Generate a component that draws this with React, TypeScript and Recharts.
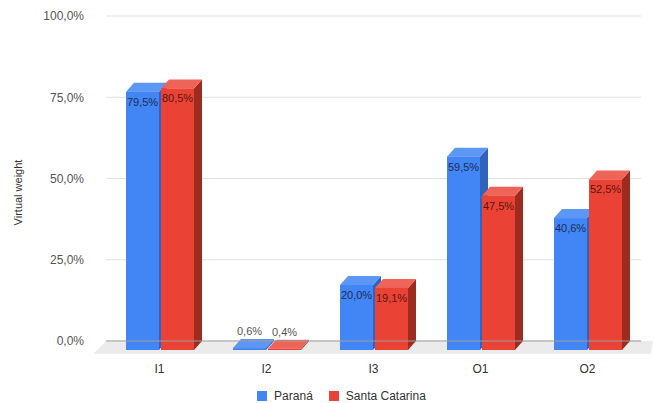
import React from 'react';
import {
  BarChart,
  Bar,
  XAxis,
  YAxis,
  CartesianGrid,
  Legend,
  LabelList,
  ReferenceArea,
  ReferenceLine,
} from 'recharts';

const categories = ['I1', 'I2', 'I3', 'O1', 'O2'];
const parana = [79.5, 0.6, 20.0, 59.5, 40.6];
const santaCatarina = [80.5, 0.4, 19.1, 47.5, 52.5];
const yTicks = [0, 25, 50, 75, 100];

const data = categories.map((name, i) => ({
  name,
  parana: parana[i],
  santaCatarina: santaCatarina[i],
}));

const DX = 8;
const DY = 9;
const FONT = '"Liberation Sans", Arial, sans-serif';

const fmt = (v: number) => v.toFixed(1).replace('.', ',') + '%';

// 3D bar: recharts gives the back-plane rect, the front face is pushed down-left
const make3D = (front: string, top: string, side: string) => (props: any) => {
  const { x, y, width, height } = props;
  if (x == null || y == null) return null;
  const h = Math.max(height, 0);
  const fx = x;
  const fy = y + DY;
  return (
    <g>
      <polygon
        points={`${fx + width},${fy} ${fx + width + DX},${y} ${fx + width + DX},${y + h} ${fx + width},${fy + h}`}
        fill={side}
      />
      <polygon
        points={`${fx},${fy} ${fx + DX},${y} ${fx + width + DX},${y} ${fx + width},${fy}`}
        fill={top}
      />
      <rect x={fx} y={fy} width={width} height={h} fill={front} />
    </g>
  );
};

const makeLabel = (color: string) => (props: any) => {
  const { x, y, width, height, value } = props;
  const cx = x + width / 2;
  if (height < 14) {
    return (
      <text x={cx} y={y - 4} textAnchor="middle" fontSize={11} fill="#555" fontFamily={FONT}>
        {fmt(value)}
      </text>
    );
  }
  return (
    <text x={cx} y={y + DY + 14} textAnchor="middle" fontSize={11} fill={color} fontFamily={FONT}>
      {fmt(value)}
    </text>
  );
};

const Floor = (props: any) => {
  const { x, y, width, height } = props;
  return (
    <polygon
      points={`${x},${y} ${x + width + 12},${y} ${x + width + 10},${y + height} ${x - 13},${y + height}`}
      fill="#ebebeb"
    />
  );
};

const legendItems = [
  { label: 'Paraná', color: '#4285f4' },
  { label: 'Santa Catarina', color: '#ea4335' },
];

const renderLegend = () => (
  <div
    style={{
      display: 'flex',
      justifyContent: 'center',
      paddingLeft: 42,
      paddingTop: 18,
      fontFamily: FONT,
      fontSize: 12,
      color: '#333',
    }}
  >
    {legendItems.map((it) => (
      <div key={it.label} style={{ display: 'flex', alignItems: 'center', margin: '0 8px' }}>
        <span style={{ width: 10, height: 10, background: it.color, marginRight: 7, display: 'inline-block' }} />
        <span>{it.label}</span>
      </div>
    ))}
  </div>
);

export default function App() {
  return (
    <div style={{ position: 'absolute', left: 0, top: 0, background: '#fff' }}>
      <BarChart
        width={654}
        height={403}
        data={data}
        margin={{ top: 16, right: 13, left: 0, bottom: 0 }}
        barCategoryGap={20}
        barGap={2}
      >
        <CartesianGrid vertical={false} stroke="#e0e0e0" />
        <ReferenceArea y1={-4} y2={0} ifOverflow="visible" shape={Floor} />
        <ReferenceLine y={0} stroke="#9e9e9e" ifOverflow="visible" />
        <XAxis
          dataKey="name"
          height={30}
          axisLine={false}
          tickLine={false}
          tickSize={0}
          tickMargin={23}
          tick={{ fontSize: 12, fill: '#333', fontFamily: FONT }}
        />
        <YAxis
          width={106}
          domain={[0, 100]}
          ticks={yTicks}
          tickFormatter={fmt}
          axisLine={false}
          tickLine={false}
          tickSize={0}
          tickMargin={22}
          tick={{ fontSize: 12, fill: '#555', fontFamily: FONT }}
          label={(p: any) => {
            const vb = p.viewBox || {};
            const cx = 18;
            const cy = (vb.y ?? 16) + (vb.height ?? 325) / 2 + 14;
            return (
              <text
                x={cx}
                y={cy}
                transform={`rotate(-90, ${cx}, ${cy})`}
                textAnchor="middle"
                dominantBaseline="central"
                fontSize={11}
                fill="#333"
                fontFamily={FONT}
              >
                Virtual weight
              </text>
            );
          }}
        />
        <Legend verticalAlign="bottom" height={32} content={renderLegend} />
        <Bar
          dataKey="parana"
          name="Paraná"
          fill="#4285f4"
          isAnimationActive={false}
          shape={make3D('#4285f4', '#5c97f6', '#2f63bd')}
        >
          <LabelList dataKey="parana" content={makeLabel('#1c2f57')} />
        </Bar>
        <Bar
          dataKey="santaCatarina"
          name="Santa Catarina"
          fill="#ea4335"
          isAnimationActive={false}
          shape={make3D('#ea4335', '#ee6459', '#9e2b20')}
        >
          <LabelList dataKey="santaCatarina" content={makeLabel('#5a1510')} />
        </Bar>
      </BarChart>
    </div>
  );
}
